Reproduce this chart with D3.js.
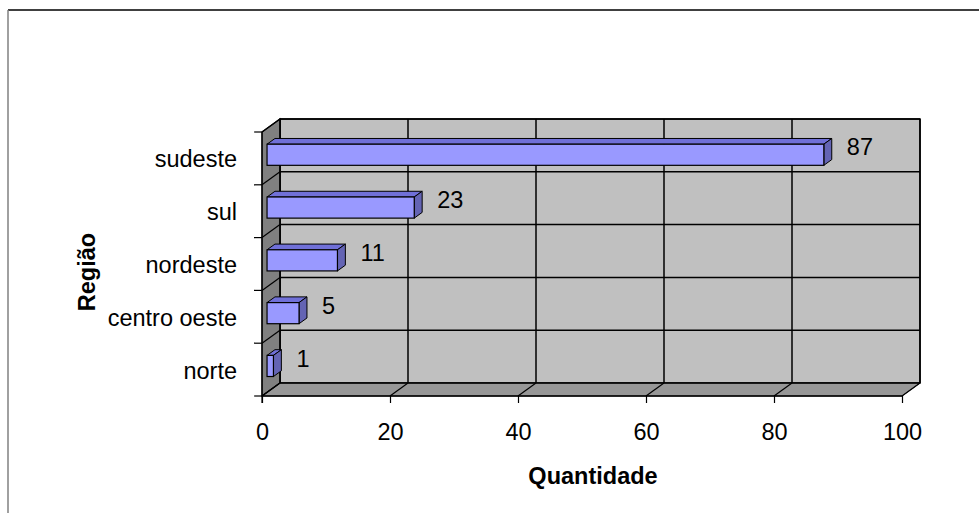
<!DOCTYPE html>
<html>
<head>
<meta charset="utf-8">
<script src="https://cdn.jsdelivr.net/npm/d3@7"></script>
<style>
  html, body { margin: 0; padding: 0; background: #ffffff; }
  svg { display: block; }
  text { font-family: "Liberation Sans", Arial, sans-serif; fill: #000; }
</style>
</head>
<body>
<svg id="chart" width="979" height="513"></svg>
<script>
// Quantidade por região
const categories = ["sudeste", "sul", "nordeste", "centro oeste", "norte"];
const values = [87, 23, 11, 5, 1];
const xTicks = [0, 20, 40, 60, 80, 100];
const xTitle = "Quantidade";
const yTitle = "Região";

const W = 979, H = 513;
const FS = 23.5;
const svg = d3.select("#chart");

// front plane of the 3D box
const front = { left: 262, right: 902, top: 132, bottom: 396 };
// depth offset from front plane to back wall
const depth = { dx: 18, dy: -13 };
// bars occupy the middle slab of the depth
const barD0 = 0.28, barD1 = 0.72;

const x = d3.scaleLinear().domain([0, 100]).range([front.left, front.right]);
const yBand = d3.scaleBand().domain(categories).range([front.top, front.bottom]).paddingInner(0).paddingOuter(0);
const yBar = d3.scaleBand().domain(categories).range([front.top, front.bottom]).paddingInner(0.6).paddingOuter(0.3);

const off = d => [depth.dx * d, depth.dy * d];
const pts = arr => arr.map(p => p.join(",")).join(" ");

// outer frame
svg.append("line").attr("x1", 8).attr("y1", 10).attr("x2", W).attr("y2", 10)
  .attr("stroke", "#000").attr("stroke-width", 1.5);
svg.append("line").attr("x1", 8).attr("y1", 10).attr("x2", 8).attr("y2", H)
  .attr("stroke", "#808080").attr("stroke-width", 1.5);

const [bx, by] = off(1);
const g = svg.append("g");

// back wall
g.append("rect")
  .attr("x", front.left + bx).attr("y", front.top + by)
  .attr("width", front.right - front.left).attr("height", front.bottom - front.top)
  .attr("fill", "#c0c0c0").attr("stroke", "#000").attr("stroke-width", 1.5);

// left wall
g.append("polygon")
  .attr("points", pts([[front.left, front.top], [front.left + bx, front.top + by],
    [front.left + bx, front.bottom + by], [front.left, front.bottom]]))
  .attr("fill", "#808080").attr("stroke", "#000").attr("stroke-width", 1.2);

// floor
g.append("polygon")
  .attr("points", pts([[front.left, front.bottom], [front.left + bx, front.bottom + by],
    [front.right + bx, front.bottom + by], [front.right, front.bottom]]))
  .attr("fill", "#979797").attr("stroke", "#333").attr("stroke-width", 1);

// vertical gridlines on back wall + floor diagonals
xTicks.forEach(t => {
  const xf = x(t);
  g.append("line").attr("x1", xf + bx).attr("x2", xf + bx)
    .attr("y1", front.top + by).attr("y2", front.bottom + by)
    .attr("stroke", "#000").attr("stroke-width", 1.5);
  g.append("line").attr("x1", xf).attr("y1", front.bottom)
    .attr("x2", xf + bx).attr("y2", front.bottom + by)
    .attr("stroke", "#000").attr("stroke-width", 1.2);
});

// horizontal gridlines on back wall + left wall diagonals at category boundaries
const boundaries = categories.map(c => yBand(c)).concat([front.bottom]);
boundaries.forEach(yv => {
  g.append("line").attr("x1", front.left + bx).attr("x2", front.right + bx)
    .attr("y1", yv + by).attr("y2", yv + by)
    .attr("stroke", "#000").attr("stroke-width", 1.5);
  g.append("line").attr("x1", front.left).attr("y1", yv)
    .attr("x2", front.left + bx).attr("y2", yv + by)
    .attr("stroke", "#000").attr("stroke-width", 1.2);
});

// front floor edge
g.append("line").attr("x1", front.left).attr("x2", front.right)
  .attr("y1", front.bottom).attr("y2", front.bottom)
  .attr("stroke", "#000").attr("stroke-width", 1.5);

// axes on the front plane
const xAxis = d3.axisBottom(x).tickValues(xTicks).tickSize(7).tickPadding(20);
const xg = svg.append("g").attr("transform", `translate(0,${front.bottom})`).call(xAxis);
xg.select(".domain").remove();
xg.selectAll(".tick line").attr("stroke", "#000").attr("stroke-width", 1.2);
xg.selectAll(".tick text").attr("font-size", FS).attr("font-family", "Liberation Sans, Arial, sans-serif").attr("fill", "#000");

// left axis: line with ticks at category boundaries
svg.append("line").attr("x1", front.left).attr("x2", front.left)
  .attr("y1", front.top).attr("y2", front.bottom + 7)
  .attr("stroke", "#000").attr("stroke-width", 1.2);
boundaries.forEach(yv => {
  svg.append("line").attr("x1", front.left - 8).attr("x2", front.left)
    .attr("y1", yv).attr("y2", yv).attr("stroke", "#000").attr("stroke-width", 1.2);
});

// category labels
svg.append("g").selectAll("text").data(categories).join("text")
  .attr("x", 237)
  .attr("y", c => yBand(c) + yBand.bandwidth() / 2 + 1)
  .attr("text-anchor", "end").attr("dominant-baseline", "central")
  .attr("font-size", FS)
  .text(c => c);

// 3D bars
const [ox0, oy0] = off(barD0);
const [ox1, oy1] = off(barD1);
const bars = svg.append("g").selectAll("g").data(categories.map((c, i) => ({ c, v: values[i] }))).join("g");

bars.each(function (d) {
  const sel = d3.select(this);
  const xa = x(0), xb = x(d.v);
  const yt = yBar(d.c), yb = yBar(d.c) + yBar.bandwidth();
  // top face
  sel.append("polygon")
    .attr("points", pts([[xa + ox0, yt + oy0], [xa + ox1, yt + oy1], [xb + ox1, yt + oy1], [xb + ox0, yt + oy0]]))
    .attr("fill", "#7070d8").attr("stroke", "#000").attr("stroke-width", 1);
  // side face
  sel.append("polygon")
    .attr("points", pts([[xb + ox0, yt + oy0], [xb + ox1, yt + oy1], [xb + ox1, yb + oy1], [xb + ox0, yb + oy0]]))
    .attr("fill", "#6464b4").attr("stroke", "#000").attr("stroke-width", 1);
  // front face
  sel.append("rect")
    .attr("x", xa + ox0).attr("y", yt + oy0)
    .attr("width", xb - xa).attr("height", yb - yt)
    .attr("fill", "#9999ff").attr("stroke", "#000").attr("stroke-width", 1.2);
  // value label
  sel.append("text")
    .attr("x", xb + ox0 + 23)
    .attr("y", yBand(d.c) + yBand.bandwidth() / 2 - 11)
    .attr("dominant-baseline", "central")
    .attr("font-size", FS)
    .text(d.v);
});

// axis titles
svg.append("text").attr("x", 593).attr("y", 476)
  .attr("text-anchor", "middle").attr("dominant-baseline", "central")
  .attr("font-size", FS).attr("font-weight", "bold").text(xTitle);

svg.append("text")
  .attr("transform", `translate(87,${(front.top + front.bottom) / 2 + 8}) rotate(-90)`)
  .attr("text-anchor", "middle").attr("dominant-baseline", "central")
  .attr("font-size", FS).attr("font-weight", "bold").text(yTitle);
</script>
</body>
</html>
